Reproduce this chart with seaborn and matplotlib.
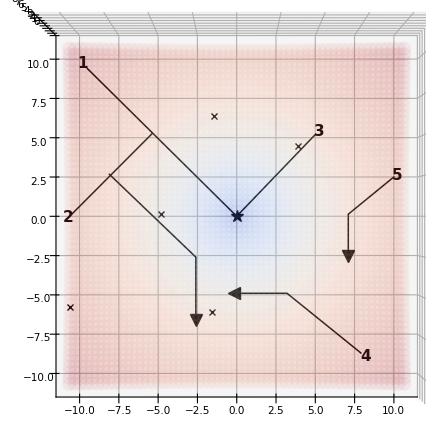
import numpy as np
import pandas as pd
import matplotlib
matplotlib.use("Agg")
import matplotlib.pyplot as plt
import seaborn as sns

# ---- data ----
grid_vals = np.linspace(-10, 10, 61)
tick_vals = [-10.0, -7.5, -5.0, -2.5, 0.0, 2.5, 5.0, 7.5, 10.0]

path1_x = [-9.5, 0.0]
path1_y = [9.4, 0.0]
path2_x = [-10.5, -5.37]
path2_y = [0.13, 5.27]
path3_x = [-8.1, -2.6, -2.6]
path3_y = [2.67, -2.6, -6.6]
path4_x = [5.0, 0.0]
path4_y = [5.2, 0.0]
path5_x = [10.0, 7.1, 7.1]
path5_y = [2.5, 0.13, -2.5]
path6_x = [7.9, 3.2, -0.2]
path6_y = [-8.7, -4.9, -4.9]

cross_x = [-1.45, -4.8, 3.9, -10.6, -1.6]
cross_y = [6.4, 0.13, 4.5, -5.8, -6.1]

star_x = [0.0]
star_y = [0.0]

label_text = ["1", "2", "3", "4", "5"]
label_x = [-9.8, -10.7, 5.25, 8.2, 10.2]
label_y = [9.7, -0.1, 5.4, -8.9, 2.6]

# ---- surface values ----
gx, gy = np.meshgrid(grid_vals, grid_vals)
surf = pd.DataFrame({"x": gx.ravel(), "y": gy.ravel()})
surf["z"] = np.sqrt(surf.x ** 2 + surf.y ** 2) ** 0.6

cmap = sns.color_palette("coolwarm", as_cmap=True)

fig = plt.figure(figsize=(4.26, 4.23), dpi=100)
ax = fig.add_subplot(projection="3d")
ax.set_position([-0.158, -0.225, 1.39, 1.39])
ax.set_box_aspect((4, 4, 4), zoom=1.096)
ax.view_init(elev=89.99, azim=-90.01)

z0 = 0.0
ax.scatter(surf.x, surf.y, surf.z, c=surf.z, cmap=cmap, s=100, alpha=0.06,
           edgecolors="none", depthshade=False)

for px, py, end in [(path1_x, path1_y, None), (path2_x, path2_y, None),
                    (path3_x, path3_y, "v"), (path4_x, path4_y, None),
                    (path5_x, path5_y, "v"), (path6_x, path6_y, "<")]:
    ax.plot(px, py, [z0] * len(px), color="black", lw=1.1)
    if end:
        ax.plot([px[-1]], [py[-1]], [z0], marker=end, color="black",
                markersize=8, linestyle="none")

ax.plot(cross_x, cross_y, [z0] * len(cross_x), marker="x", color="black",
        markersize=4, linestyle="none", mew=1)
ax.plot(star_x, star_y, [z0], marker="*", color="black", markersize=9,
        linestyle="none")
for t, lx, ly in zip(label_text, label_x, label_y):
    ax.text(lx, ly, z0, t, fontsize=11, fontweight="bold", color="#2a1010",
            ha="center", va="center")

ax.set_xlim(-11.5, 11.5)
ax.set_ylim(-11.5, 11.5)
ax.set_zlim(0, surf.z.max() / 0.55)
ax.set_xticks(tick_vals)
ax.set_yticks(tick_vals)
ax.tick_params(labelsize=7.5)
ax.tick_params(axis="x", pad=-2)

fig.savefig("out.png", dpi=100)
